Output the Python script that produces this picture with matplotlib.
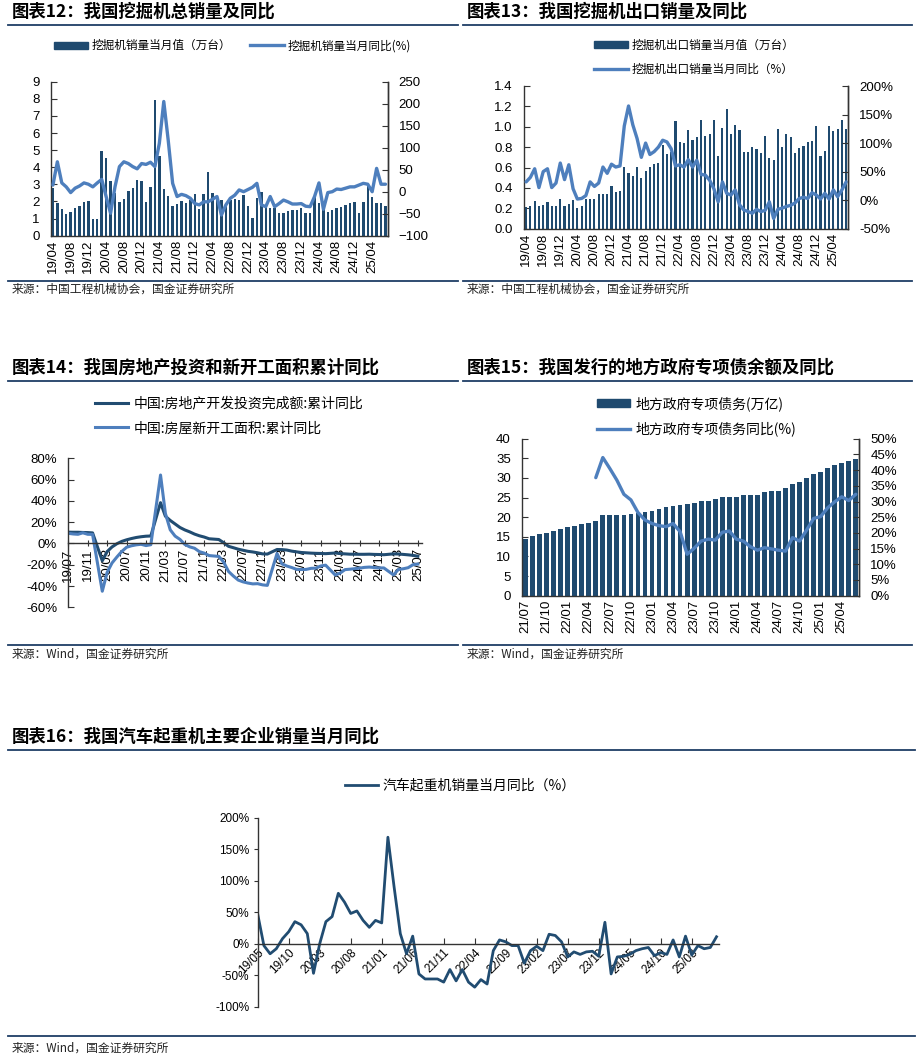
import matplotlib
matplotlib.use('Agg')
import matplotlib.pyplot as plt
from matplotlib.lines import Line2D
from matplotlib.patches import Patch
import matplotlib.font_manager as fm

# ---------------- data ----------------
# Panel 12: excavator total sales (monthly 19/04 - 25/07)
exc_sales = [2.76, 1.93, 1.55, 1.27, 1.40, 1.60, 1.73, 1.98, 2.05, 1.00, 0.95, 4.95,
             4.56, 3.22, 2.50, 1.95, 2.12, 2.60, 2.77, 3.25, 3.20, 1.99, 2.87, 7.93,
             4.66, 2.73, 2.34, 1.75, 1.83, 2.05, 1.93, 2.10, 2.42, 1.58, 2.46, 3.74,
             2.48, 2.10, 2.09, 1.80, 2.09, 2.15, 2.09, 2.38, 1.74, 1.05, 2.18, 2.57,
             1.70, 1.64, 1.60, 1.31, 1.35, 1.44, 1.50, 1.50, 1.64, 1.31, 1.31, 2.30,
             1.93, 1.70, 1.41, 1.50, 1.60, 1.70, 1.80, 1.89, 1.99, 1.31, 1.99, 2.97,
             2.24, 1.89, 1.93, 1.74]
exc_yoy = [15, 68, 20, 11, -2, 8, 13, 20, 17, 11, 20, 28,
           -11, -49, 11, 57, 68, 64, 57, 52, 64, 62, 67, 57,
           110, 205, 117, 19, -11, -6, -9, -15, -27, -30, -23, -23,
           -17, -11, -53, -30, -15, -8, 4, 0, 5, 10, 19, -30,
           -34, -11, -34, -27, -19, -23, -28, -28, -27, -33, -34, -11,
           20, -40, -2, 0, 6, 5, 8, 11, 11, 15, 19, 17,
           0, 53, 17, 17]
# Panel 13: excavator export sales (monthly 19/04 - 25/07)
exp_sales = [0.21, 0.22, 0.27, 0.22, 0.23, 0.26, 0.22, 0.22, 0.29, 0.22, 0.24, 0.28,
             0.20, 0.22, 0.29, 0.29, 0.29, 0.34, 0.34, 0.34, 0.42, 0.36, 0.37, 0.61,
             0.55, 0.52, 0.61, 0.50, 0.57, 0.61, 0.63, 0.64, 0.82, 0.73, 0.75, 1.06,
             0.85, 0.84, 0.97, 0.87, 0.90, 1.07, 0.91, 0.93, 1.07, 0.71, 0.99, 1.17,
             0.93, 1.02, 0.97, 0.75, 0.75, 0.80, 0.78, 0.74, 0.91, 0.69, 0.67, 0.98,
             0.80, 0.93, 0.90, 0.74, 0.79, 0.81, 0.85, 0.86, 1.01, 0.71, 0.76, 1.01,
             0.96, 0.98, 1.07, 0.98]
exp_yoy = [32, 40, 55, 22, 50, 55, 22, 30, 65, 36, 62, 20,
           2, 3, 8, 32, 24, 30, 58, 47, 63, 58, 60, 130,
           165, 132, 108, 75, 100, 80, 85, 93, 105, 102, 90, 60,
           62, 58, 71, 58, 70, 45, 44, 35, 20, -3, 32, 12,
           9, 18, -8, -17, -20, -23, -16, -20, -18, -3, -32, -16,
           -14, -11, -9, -5, 3, 5, 3, 13, 9, 2, 12, 2,
           18, 6, 18, 32]
month_ticks_12 = ['19/04', '19/08', '19/12', '20/04', '20/08', '20/12', '21/04', '21/08',
                  '21/12', '22/04', '22/08', '22/12', '23/04', '23/08', '23/12', '24/04',
                  '24/08', '24/12', '25/04']

# Panel 14: real estate (cumulative YoY, months since 2019-07, no January)
re_month_idx = [0, 1, 2, 3, 4, 5,
                7, 8, 9, 10, 11, 12, 13, 14, 15, 16, 17,
                19, 20, 21, 22, 23, 24, 25, 26, 27, 28, 29,
                31, 32, 33, 34, 35, 36, 37, 38, 39, 40, 41,
                43, 44, 45, 46, 47, 48, 49, 50, 51, 52, 53,
                55, 56, 57, 58, 59, 60, 61, 62, 63, 64, 65,
                67, 68, 69, 70, 71, 72]
re_invest = [10.6, 10.5, 10.5, 10.3, 10.2, 9.9,
             -16.3, -7.7, -3.3, -0.3, 1.9, 3.4, 4.6, 5.6, 6.3, 6.8, 7.0,
             38.3, 25.6, 21.6, 18.3, 15.0, 12.7, 10.9, 8.8, 7.2, 6.0, 4.4,
             3.7, 0.7, -2.7, -4.0, -5.4, -6.4, -7.4, -8.0, -8.8, -9.8, -10.0,
             -5.7, -5.8, -6.2, -7.2, -7.9, -8.5, -8.8, -9.1, -9.3, -9.4, -9.6,
             -9.0, -9.5, -9.8, -10.1, -10.1, -10.2, -10.2, -10.1, -10.3, -10.4, -10.6,
             -9.8, -9.9, -10.3, -10.7, -11.2, -12.0]
re_starts = [9.5, 8.9, 8.6, 10.0, 8.6, 8.5,
             -44.9, -27.2, -18.4, -12.8, -7.6, -3.6, -2.2, -1.3, -0.8, -2.0, -1.2,
             64.3, 28.2, 12.8, 6.9, 3.8, -0.9, -3.2, -4.5, -7.7, -9.1, -11.4,
             -12.2, -17.5, -26.3, -30.6, -34.4, -36.1, -37.2, -38.0, -37.8, -38.9, -39.4,
             -9.4, -19.2, -21.2, -22.6, -24.3, -24.5, -24.4, -23.4, -23.2, -21.2, -20.4,
             -29.7, -27.8, -24.6, -24.2, -23.7, -23.2, -22.5, -22.2, -22.6, -23.0, -23.0,
             -29.6, -24.4, -23.8, -22.8, -20.0, -19.4]
re_ticks = ['19/07', '19/11', '20/03', '20/07', '20/11', '21/03', '21/07', '21/11', '22/03',
            '22/07', '22/11', '23/03', '23/07', '23/11', '24/03', '24/07', '24/11', '25/03', '25/07']

# Panel 15: local government special bonds (monthly 21/07 - 25/06)
bond_balance = [14.5, 15.1, 15.6, 16.1, 16.6, 16.9, 17.5, 17.8, 18.3, 18.4, 19.1, 20.5,
                20.5, 20.5, 20.5, 20.9, 21.0, 21.3, 21.6, 22.2, 22.5, 22.8, 23.1, 23.3,
                23.5, 24.1, 24.1, 24.6, 25.1, 25.1, 25.2, 25.6, 25.7, 25.7, 26.3, 26.6,
                26.7, 27.5, 28.5, 28.9, 30.1, 31.0, 31.4, 32.5, 33.3, 33.7, 34.3, 34.9]
bond_yoy_first = 10   # first month with YoY value (22/05)
bond_yoy = [37.6, 44.0, 40.5, 36.8, 32.3, 30.5, 26.5, 24.1, 23.0, 22.3, 22.0, 23.0,
            20.4, 13.2, 15.1, 17.4, 18.0, 17.7, 20.2, 20.6, 18.0, 17.4, 15.6, 14.5,
            15.3, 14.9, 14.5, 14.2, 18.5, 17.4, 20.9, 24.6, 25.2, 28.0, 29.9, 31.5,
            30.3, 32.3]
bond_ticks = ['21/07', '21/10', '22/01', '22/04', '22/07', '22/10', '23/01', '23/04',
              '23/07', '23/10', '24/01', '24/04', '24/07', '24/10', '25/01', '25/04']

# Panel 16: truck crane sales YoY (monthly 19/05 - 25/07)
crane_yoy = [47, -3, -16, -8, 8, 19, 35, 30, 16, -47, 0, 35,
             43, 80, 66, 48, 52, 37, 26, 37, 33, 169, 90, 16,
             -16, 12, -48, -56, -56, -56, -61, -41, -59, -41, -61, -69,
             -57, -64, -11, 6, 3, -3, -3, -31, -11, -4, -11, 15,
             13, 3, -21, -13, -17, -13, -12, -20, 34, -48, -21, -20,
             -17, -11, -8, -6, -19, -14, -17, 6, -21, 12, -18, -3,
             -8, -6, 11]
crane_ticks = ['19/05', '19/10', '20/03', '20/08', '21/01', '21/06', '21/11', '22/04',
               '22/09', '23/02', '23/07', '23/12', '24/05', '24/10', '25/03']

# ---------------- style ----------------
W, H = 920, 1064
fig = plt.figure(figsize=(W / 100, H / 100), dpi=100)
plt.rcParams['font.family'] = ['Liberation Sans', 'Noto Sans CJK SC', 'DejaVu Sans']
CJK = ['Noto Sans CJK SC', 'DejaVu Sans']
names = {f.name for f in fm.fontManager.ttflist}
NARROW = ['Liberation Sans Narrow' if 'Liberation Sans Narrow' in names else 'Liberation Sans',
          'Noto Sans CJK SC']

BAR = '#1F4A6F'
LIGHT = '#4E7FBD'
DARK = '#214C71'
NAVY = '#1F3E66'
AXC = '#333333'
TICK_FS = 9.5


def add_ax(l, t, r, b):
    return fig.add_axes([l / W, 1 - b / H, (r - l) / W, (b - t) / H])


def ftext(x, y, s, **kw):
    fig.text(x / W, 1 - y / H, s, **kw)


def hline(x0, x1, y, color=NAVY, lw=1.3):
    fig.add_artist(Line2D([x0 / W, x1 / W], [1 - y / H, 1 - y / H],
                          transform=fig.transFigure, color=color, lw=lw))


def frame(x0, x1, ytitle, yline, ybottom, ysrc, title, src):
    ftext(x0 + 4, ytitle, title, fontsize=12.5, fontweight='bold', family=CJK,
          va='center', ha='left', color='black')
    hline(x0, x1, yline)
    hline(x0, x1, ybottom)
    ftext(x0 + 4, ysrc, src, fontsize=8.5, family=CJK, va='center', ha='left', color='#222222')


def style_spines(ax, right=False):
    ax.spines['top'].set_visible(False)
    ax.spines['right'].set_visible(right)
    for s in ['left', 'bottom', 'right']:
        ax.spines[s].set_color(AXC)
        ax.spines[s].set_linewidth(1.0)


# ---------------- Panel 12 ----------------
frame(8, 458, 12, 24.5, 280.5, 289, '图表12：我国挖掘机总销量及同比', '来源：中国工程机械协会，国金证券研究所')
ax = add_ax(50.7, 81.7, 387.7, 235.7)
x = list(range(len(exc_sales)))
ax.bar(x, exc_sales, width=0.55, color=BAR, zorder=2)
ax.set_xlim(-0.5, len(x) - 0.5)
ax.set_ylim(0, 9)
ax.set_yticks(range(0, 10))
ax.set_xticks(range(0, len(x), 4))
ax.set_xticklabels(month_ticks_12, rotation=90, fontsize=TICK_FS)
ax.tick_params(axis='y', direction='in', length=4, labelsize=TICK_FS, pad=8, color=AXC)
ax.tick_params(axis='x', direction='in', length=3, pad=3, color=AXC)
style_spines(ax, right=True)
ax2 = ax.twinx()
ax2.plot(x, exc_yoy, color=LIGHT, lw=2.4, solid_joinstyle='round', solid_capstyle='round')
ax2.set_ylim(-100, 250)
ax2.set_yticks(range(-100, 251, 50))
ax2.tick_params(axis='y', direction='in', length=4, labelsize=TICK_FS, pad=8, color=AXC)
style_spines(ax2, right=True)
ax2.spines['left'].set_visible(False)
ax2.spines['bottom'].set_visible(False)
h1 = Patch(color=BAR, label='挖掘机销量当月值（万台）')
h2 = Line2D([], [], color=LIGHT, lw=2.4, label='挖掘机销量当月同比(%)')
fig.legend(handles=[h1, h2], loc='center left', bbox_to_anchor=(54 / W, 1 - 45.7 / H),
           ncol=2, frameon=False, prop={'family': CJK, 'size': 8.4}, handlelength=2.9,
           handleheight=0.55, handletextpad=0.35, columnspacing=1.6, borderpad=0, borderaxespad=0)

# ---------------- Panel 13 ----------------
frame(463, 912, 12, 24.5, 280.5, 289, '图表13：我国挖掘机出口销量及同比', '来源：中国工程机械协会，国金证券研究所')
ax = add_ax(524, 86, 848.3, 228.7)
x = list(range(len(exp_sales)))
ax.bar(x, exp_sales, width=0.5, color=BAR, zorder=2)
ax.set_xlim(-0.5, len(x) - 0.5)
ax.set_ylim(0, 1.4)
ax.set_yticks([0, 0.2, 0.4, 0.6, 0.8, 1.0, 1.2, 1.4])
ax.set_yticklabels(['%.1f' % v for v in [0, 0.2, 0.4, 0.6, 0.8, 1.0, 1.2, 1.4]])
ax.set_xticks(range(0, len(x), 4))
ax.set_xticklabels(month_ticks_12, rotation=90, fontsize=TICK_FS)
ax.tick_params(axis='y', direction='in', length=4, labelsize=TICK_FS, pad=8, color=AXC)
ax.tick_params(axis='x', direction='in', length=3, pad=3, color=AXC)
style_spines(ax, right=True)
ax2 = ax.twinx()
ax2.plot(x, exp_yoy, color=LIGHT, lw=2.4, solid_joinstyle='round', solid_capstyle='round')
ax2.set_ylim(-50, 200)
ax2.set_yticks(range(-50, 201, 50))
ax2.set_yticklabels(['%d%%' % v for v in range(-50, 201, 50)])
ax2.tick_params(axis='y', direction='in', length=4, labelsize=TICK_FS, pad=8, color=AXC)
style_spines(ax2, right=True)
ax2.spines['left'].set_visible(False)
ax2.spines['bottom'].set_visible(False)
h1 = Patch(color=BAR, label='挖掘机出口销量当月值（万台）')
h2 = Line2D([], [], color=LIGHT, lw=2.4, label='挖掘机出口销量当月同比（%）')
fig.legend(handles=[h1, h2], loc='center left', bbox_to_anchor=(594 / W, 1 - 57.5 / H),
           ncol=1, frameon=False, prop={'family': CJK, 'size': 8.4}, handlelength=2.9,
           handleheight=0.55, handletextpad=0.35, labelspacing=0.95, borderpad=0, borderaxespad=0)

# ---------------- Panel 14 ----------------
frame(8, 458, 368, 380.7, 645, 654, '图表14：我国房地产投资和新开工面积累计同比', '来源：Wind，国金证券研究所')
ax = add_ax(68.3, 458.3, 421.7, 607.3)
ax.spines['bottom'].set_position(('data', 0))
ax.plot(re_month_idx, re_invest, color=DARK, lw=2.2, solid_joinstyle='round',
        label='中国:房地产开发投资完成额:累计同比')
ax.plot(re_month_idx, re_starts, color=LIGHT, lw=2.2, solid_joinstyle='round',
        label='中国:房屋新开工面积:累计同比')
ax.set_xlim(0, 72.8)
ax.set_ylim(-60, 80)
ax.set_yticks(range(-60, 81, 20))
ax.set_yticklabels(['%d%%' % v for v in range(-60, 81, 20)])
ax.set_xticks(range(0, 73, 4))
ax.set_xticklabels(re_ticks, rotation=90, fontsize=TICK_FS, va='top')
style_spines(ax)
ax.tick_params(axis='y', direction='in', length=4, labelsize=TICK_FS, pad=8, color=AXC)
ax.tick_params(axis='x', direction='inout', length=5, pad=1, color=AXC)
fig.legend(handles=ax.get_lines(), loc='center left', bbox_to_anchor=(95 / W, 1 - 416 / H),
           ncol=1, frameon=False, prop={'family': CJK, 'size': 10}, handlelength=2.4,
           handletextpad=0.35, labelspacing=0.75, borderpad=0, borderaxespad=0)

# ---------------- Panel 15 ----------------
frame(463, 912, 368, 380.7, 645, 654, '图表15：我国发行的地方政府专项债余额及同比', '来源：Wind，国金证券研究所')
ax = add_ax(522, 438.7, 859.3, 595.7)
x = list(range(len(bond_balance)))
ax.bar(x, bond_balance, width=0.68, color=BAR, zorder=2)
ax.set_xlim(-0.5, len(x) - 0.5)
ax.set_ylim(0, 40)
ax.set_yticks(range(0, 41, 5))
ax.set_xticks(range(0, len(x), 3))
ax.set_xticklabels(bond_ticks, rotation=90, fontsize=TICK_FS)
ax.tick_params(axis='y', direction='in', length=4, labelsize=TICK_FS, pad=8, color=AXC)
ax.tick_params(axis='x', direction='in', length=3, pad=3, color=AXC)
style_spines(ax, right=True)
ax2 = ax.twinx()
xy = list(range(bond_yoy_first, bond_yoy_first + len(bond_yoy)))
ax2.plot(xy, bond_yoy, color=LIGHT, lw=2.4, solid_joinstyle='round', solid_capstyle='round')
ax2.set_ylim(0, 50)
ax2.set_yticks(range(0, 51, 5))
ax2.set_yticklabels(['%d%%' % v for v in range(0, 51, 5)])
ax2.tick_params(axis='y', direction='in', length=4, labelsize=TICK_FS, pad=8, color=AXC)
style_spines(ax2, right=True)
ax2.spines['left'].set_visible(False)
ax2.spines['bottom'].set_visible(False)
h1 = Patch(color=BAR, label='地方政府专项债务(万亿)')
h2 = Line2D([], [], color=LIGHT, lw=2.4, label='地方政府专项债务同比(%)')
fig.legend(handles=[h1, h2], loc='center left', bbox_to_anchor=(597 / W, 1 - 416 / H),
           ncol=1, frameon=False, prop={'family': CJK, 'size': 10}, handlelength=2.4,
           handleheight=0.55, handletextpad=0.35, labelspacing=0.75, borderpad=0, borderaxespad=0)

# ---------------- Panel 16 ----------------
frame(8, 915, 737, 750, 1036, 1048, '图表16：我国汽车起重机主要企业销量当月同比', '来源：Wind，国金证券研究所')
ax = add_ax(257.7, 817.7, 719, 1006.7)
ax.spines['bottom'].set_position(('data', 0))
x = list(range(len(crane_yoy)))
ax.plot(x, crane_yoy, color=DARK, lw=2.0, solid_joinstyle='round', label='汽车起重机销量当月同比（%）')
ax.set_xlim(0, len(x) - 0.6)
ax.set_ylim(-100, 200)
ax.set_yticks(range(-100, 201, 50))
ax.set_yticklabels(['%d%%' % v for v in range(-100, 201, 50)], family=NARROW, fontsize=8.5)
ax.set_xticks(range(0, len(x), 5))
ax.set_xticklabels(crane_ticks, rotation=45, ha='right', va='top', rotation_mode='anchor',
                   family=NARROW, fontsize=8.5)
style_spines(ax)
ax.tick_params(axis='y', direction='out', length=3, pad=3, color=AXC)
ax.tick_params(axis='x', direction='in', length=4, pad=2, color=AXC)
fig.legend(handles=ax.get_lines(), loc='center left', bbox_to_anchor=(345 / W, 1 - 786 / H),
           ncol=1, frameon=False, prop={'family': CJK, 'size': 10}, handlelength=2.4,
           handletextpad=0.3, borderpad=0, borderaxespad=0)

fig.savefig('out.png', dpi=100)
